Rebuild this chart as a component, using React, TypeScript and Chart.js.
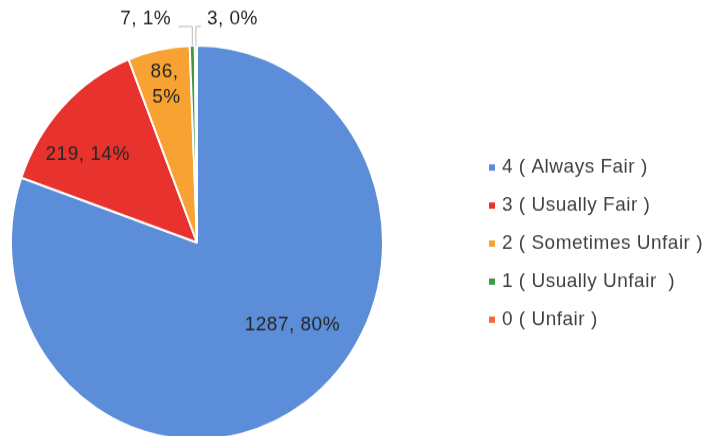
import React, { useEffect, useRef } from "react";
import { Chart, registerables } from "chart.js";

Chart.register(...registerables);

// ---- data ----
const categories = [
  "4 ( Always Fair )",
  "3 ( Usually Fair )",
  "2 ( Sometimes Unfair )",
  "1 ( Usually Unfair  )",
  "0 ( Unfair )",
];
const counts = [1287, 219, 86, 7, 3];
const percentLabels = ["80%", "14%", "5%", "1%", "0%"];
const colors = ["#5b8dd9", "#e8322e", "#f7a233", "#3d9b3d", "#f26a35"];

// ---- label placement styles ----
const labelInside = [true, true, true, false, false];
const labelRadiusFrac = [0.66, 0.74, 0.82, 1, 1];
const labelAngleShiftDeg = [-15.6, -6.4, 0, 0, 0];
const labelWrap = [false, false, true, false, false];
const leaderDir = [0, 0, 0, -1, 1];
const leaderLen = [0, 0, 0, 14, 5];

const FONT = '"Liberation Sans", Arial, sans-serif';
const SCALE_Y = 1.059;
const CANVAS_W = 710;
const CANVAS_H = 420;

const labelPlugin = {
  id: "sliceLabels",
  afterDatasetsDraw(chart: any) {
    const ctx = chart.ctx;
    const meta = chart.getDatasetMeta(0);
    ctx.save();
    ctx.font = `19px ${FONT}`;
    (ctx as any).letterSpacing = "0.5px";
    ctx.fillStyle = "#262626";
    meta.data.forEach((arc: any, i: number) => {
      const { x, y, startAngle, endAngle, outerRadius } = arc.getProps(
        ["x", "y", "startAngle", "endAngle", "outerRadius"],
        true
      );
      const mid = (startAngle + endAngle) / 2;
      const text1 = `${counts[i]},`;
      const text2 = percentLabels[i];
      if (labelInside[i]) {
        const a = mid + (labelAngleShiftDeg[i] * Math.PI) / 180;
        const r = outerRadius * labelRadiusFrac[i];
        const px = x + Math.cos(a) * r;
        const py = y + Math.sin(a) * r;
        ctx.textAlign = "center";
        ctx.textBaseline = "middle";
        if (labelWrap[i]) {
          ctx.fillText(text1, px - 1, py - 12);
          ctx.fillText(text2, px + 1, py + 12);
        } else {
          ctx.fillText(`${text1} ${text2}`, px, py);
        }
      } else {
        const ex = x + Math.cos(mid) * outerRadius;
        const ey = y + Math.sin(mid) * outerRadius;
        const elbowY = y - outerRadius - 18;
        const endX = ex + leaderDir[i] * leaderLen[i];
        ctx.strokeStyle = "#b8b8b8";
        ctx.lineWidth = 1;
        ctx.beginPath();
        ctx.moveTo(ex, ey);
        ctx.lineTo(ex, elbowY);
        ctx.lineTo(endX, elbowY);
        ctx.stroke();
        ctx.textBaseline = "middle";
        if (leaderDir[i] < 0) {
          ctx.textAlign = "right";
          ctx.fillText(`${text1} ${text2}`, endX - 7, elbowY - 7);
        } else {
          ctx.textAlign = "left";
          ctx.fillText(`${text1} ${text2}`, endX + 6, elbowY - 7);
        }
      }
    });
    ctx.restore();
  },
};

const legendPlugin = {
  id: "sideLegend",
  afterDraw(chart: any) {
    const ctx = chart.ctx;
    const area = chart.chartArea;
    const cy = (area.top + area.bottom) / 2 + 1;
    const step = 35.9;
    const boxX = 489;
    const textX = 502;
    ctx.save();
    ctx.font = `19px ${FONT}`;
    (ctx as any).letterSpacing = "0.5px";
    ctx.textAlign = "left";
    ctx.textBaseline = "middle";
    categories.forEach((label, i) => {
      const yy = cy + (i - (categories.length - 1) / 2) * step;
      ctx.fillStyle = colors[i];
      ctx.fillRect(boxX, yy - 3, 6, 6);
      ctx.fillStyle = "#404040";
      ctx.fillText(label, textX, yy);
    });
    ctx.restore();
  },
};

export default function App() {
  const canvasRef = useRef<HTMLCanvasElement | null>(null);

  useEffect(() => {
    if (!canvasRef.current) return;
    const chart = new Chart(canvasRef.current, {
      type: "pie",
      data: {
        labels: categories,
        datasets: [
          {
            data: counts,
            backgroundColor: colors,
            borderColor: "#ffffff",
            borderWidth: 2,
          },
        ],
      },
      options: {
        responsive: false,
        maintainAspectRatio: false,
        devicePixelRatio: 1,
        animation: false,
        layout: {
          padding: { left: 10, right: CANVAS_W - 384, top: 42, bottom: CANVAS_H - 42 - 374 },
        },
        plugins: {
          legend: { display: false },
          tooltip: { enabled: false },
        },
      },
      plugins: [labelPlugin, legendPlugin],
    });
    return () => chart.destroy();
  }, []);

  return (
    <div
      style={{
        position: "absolute",
        left: 0,
        top: 0,
        width: 710,
        height: 436,
        overflow: "hidden",
        background: "#ffffff",
      }}
    >
      <div style={{ transform: `scaleY(${SCALE_Y})`, transformOrigin: "0 0" }}>
        <canvas
          ref={canvasRef}
          width={CANVAS_W}
          height={CANVAS_H}
          style={{ display: "block", width: CANVAS_W, height: CANVAS_H }}
        />
      </div>
    </div>
  );
}
